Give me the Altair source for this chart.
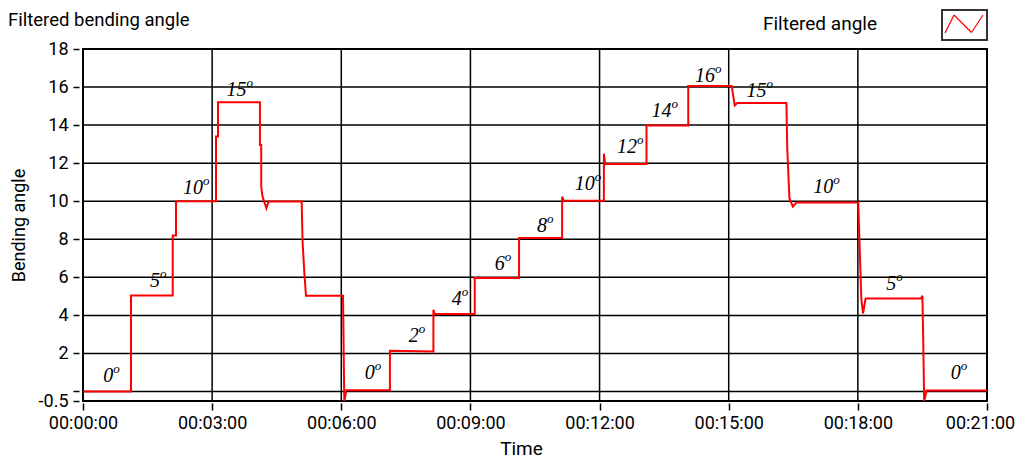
import altair as alt
import pandas as pd

# ---- data (time in minutes, angle in degrees) ----
line_t = [0.0, 1.115, 1.115, 2.084, 2.084, 2.16, 2.16, 3.09, 3.09, 3.136, 3.136,
          4.11, 4.11, 4.14, 4.14, 4.17, 4.26, 4.31, 5.08, 5.10, 5.14, 5.18,
          6.04, 6.07, 6.12, 7.13, 7.13, 8.14, 8.14, 8.17, 9.10, 9.10,
          10.13, 10.13, 11.13, 11.13, 11.17, 11.20, 12.10, 12.10, 12.13,
          13.09, 13.09, 14.06, 14.06, 15.07, 15.10, 15.14, 15.20, 16.34,
          16.36, 16.41, 16.49, 16.57, 18.01, 18.05, 18.08, 18.12, 18.18,
          19.47, 19.50, 19.52, 19.54, 19.60, 21.0]
line_v = [0.0, 0.0, 5.05, 5.05, 8.2, 8.2, 10.0, 10.0, 13.4, 13.4, 15.2,
          15.2, 12.96, 12.96, 10.77, 10.24, 9.63, 9.98, 9.98, 7.9, 6.3, 5.03,
          5.03, -0.5, 0.07, 0.07, 2.14, 2.1, 4.3, 4.07, 4.07, 5.96,
          5.96, 8.07, 8.07, 10.24, 10.03, 10.03, 10.03, 12.5, 11.95,
          11.95, 13.98, 13.98, 16.05, 16.05, 15.6, 15.03, 15.16, 15.16,
          12.8, 10.16, 9.72, 9.93, 9.93, 7.0, 4.89, 4.1, 4.89,
          4.9, 5.03, 2.5, -0.5, 0.05, 0.05]

label_txt = ["0", "5", "10", "15", "0", "2", "4", "6", "8", "10", "12", "14",
             "16", "15", "10", "5", "0"]
label_t = [0.70, 1.79, 2.79, 3.80, 6.78, 7.80, 8.80, 9.80, 10.78, 11.89, 12.87,
           13.67, 14.68, 15.88, 17.43, 18.89, 20.39]
label_v = [0.49, 5.47, 10.38, 15.54, 0.68, 2.6, 4.54, 6.38, 8.38, 10.59, 12.53,
           14.4, 16.29, 15.5, 10.42, 5.33, 0.63]

x_ticks = [0, 3, 6, 9, 12, 15, 18, 21]
y_ticks = [-0.5, 0, 2, 4, 6, 8, 10, 12, 14, 16, 18]

chart_title = "Filtered bending angle"
legend_label = "Filtered angle"

line_df = pd.DataFrame({"t": line_t, "v": line_v})
lab_df = pd.DataFrame({"t": label_t, "v": label_v, "txt": label_txt,
                       "sup": ["o"] * len(label_txt)})
deco_df = pd.DataFrame({"a": [0]})
xgrid_df = pd.DataFrame({"g": x_ticks})
ygrid_df = pd.DataFrame({"g": [v for v in y_ticks if v > -0.5]})

FONT = "Roboto"

x_scale = alt.Scale(domain=[0, 21], nice=False, zero=False)
y_scale = alt.Scale(domain=[-0.5, 18], nice=False, zero=False)

x_axis = alt.Axis(
    values=x_ticks, tickCount=len(x_ticks),
    labelExpr="'00:' + (datum.value < 10 ? '0' : '') + datum.value + ':00'",
    labelOffset={"condition": {"test": "datum.value == 21", "value": -7}, "value": 0},
    title="Time", grid=False,
    domain=False, offset=2, tickSize=7, tickColor="black", tickWidth=1.5,
    labelPadding=4, labelFont=FONT, labelFontSize=18, labelColor="black",
    labelFlush=False, labelOverlap=False, labelBound=False,
    titleFont=FONT, titleFontSize=19, titleFontWeight="normal", titleColor="black",
    titleX=438, titlePadding=7,
)
y_axis = alt.Axis(
    values=y_ticks, tickCount=len(y_ticks),
    labelExpr="datum.value == 0 ? '' : toString(datum.value)",
    title="Bending angle", grid=False,
    domain=False, offset=4, tickSize=6, tickColor="black", tickWidth=1.5,
    labelPadding=5, labelFont=FONT, labelFontSize=18, labelColor="black",
    labelFlush=False, labelOverlap=False, labelBound=False,
    titleFont=FONT, titleFontSize=18, titleFontWeight="normal", titleColor="black",
    titlePadding=10,
)

xgrid = alt.Chart(xgrid_df).mark_rule(color="black", strokeWidth=1.5).encode(
    x=alt.X("g:Q", scale=x_scale, axis=x_axis)
)
ygrid = alt.Chart(ygrid_df).mark_rule(color="black", strokeWidth=1.5).encode(
    y=alt.Y("g:Q", scale=y_scale, axis=y_axis)
)

line = alt.Chart(line_df).mark_line(color="#ff0000", strokeWidth=2, clip=True).encode(
    x=alt.X("t:Q", scale=x_scale, axis=x_axis),
    y=alt.Y("v:Q", scale=y_scale, axis=y_axis),
    order=alt.Order("t:Q"),
)

nums = alt.Chart(lab_df).mark_text(
    font="Liberation Serif", fontStyle="italic", fontSize=20, align="right",
    baseline="alphabetic", color="black"
).encode(x=alt.X("t:Q", scale=x_scale, axis=x_axis),
         y=alt.Y("v:Q", scale=y_scale, axis=y_axis), text="txt:N")

sups = alt.Chart(lab_df).mark_text(
    font="Liberation Serif", fontStyle="italic", fontSize=13, align="left",
    baseline="alphabetic", color="black", dy=-9
).encode(x=alt.X("t:Q", scale=x_scale, axis=x_axis),
         y=alt.Y("v:Q", scale=y_scale, axis=y_axis), text="sup:N")

title_txt = alt.Chart(deco_df).mark_text(
    text=chart_title, font=FONT, fontSize=18.5, align="left", baseline="alphabetic",
    color="black"
).encode(x=alt.value(-75), y=alt.value(-23.5))

leg_txt = alt.Chart(deco_df).mark_text(
    text=legend_label, font=FONT, fontSize=19, align="left", baseline="alphabetic",
    color="black"
).encode(x=alt.value(680), y=alt.value(-19))

leg_box = alt.Chart(deco_df).mark_rect(
    fill="white", stroke="#333333", strokeWidth=2
).encode(x=alt.value(859), x2=alt.value(904), y=alt.value(-39), y2=alt.value(-9))

zz1 = alt.Chart(deco_df).mark_rule(color="#ff0000", strokeWidth=1.2).encode(
    x=alt.value(862), x2=alt.value(871), y=alt.value(-16), y2=alt.value(-34))
zz2 = alt.Chart(deco_df).mark_rule(color="#ff0000", strokeWidth=1.2).encode(
    x=alt.value(871), x2=alt.value(888.5), y=alt.value(-34), y2=alt.value(-16.5))
zz3 = alt.Chart(deco_df).mark_rule(color="#ff0000", strokeWidth=1.2).encode(
    x=alt.value(888.5), x2=alt.value(900), y=alt.value(-16.5), y2=alt.value(-34))

chart = alt.layer(xgrid, ygrid, line, nums, sups, title_txt, leg_txt, leg_box,
                  zz1, zz2, zz3).properties(
    width=904, height=352,
    autosize=alt.AutoSizeParams(type="none"),
    padding={"left": 75, "top": 41, "right": 29, "bottom": 58},
    background="white",
).configure_view(stroke="black", strokeWidth=2)

chart.save("out.html", embed_options={"renderer": "svg", "actions": False})
